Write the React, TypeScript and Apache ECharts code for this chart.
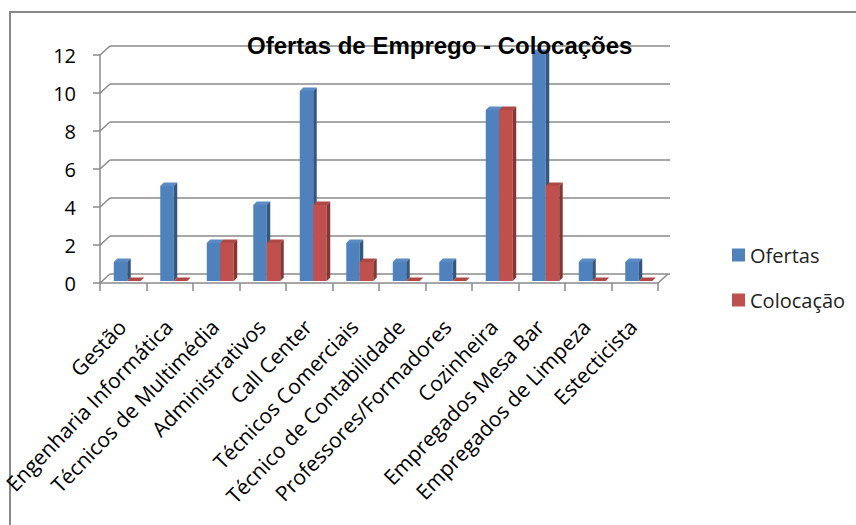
import React, { useEffect, useRef } from "react";
import * as echarts from "echarts";

const categories = [
  "Gestão",
  "Engenharia Informática",
  "Técnicos de Multimédia",
  "Administrativos",
  "Call Center",
  "Técnicos Comerciais",
  "Técnico de Contabilidade",
  "Professores/Formadores",
  "Cozinheira",
  "Empregados Mesa Bar",
  "Empregados de Limpeza",
  "Estecticista",
];
const ofertas = [1, 5, 2, 4, 10, 2, 1, 1, 9, 12, 1, 1];
const colocacao = [0, 0, 2, 2, 4, 1, 0, 0, 9, 5, 0, 0];
const yTicks = [0, 2, 4, 6, 8, 10, 12];
const seriesNames = ["Ofertas", "Colocação"];
const titleText = "Ofertas de Emprego - Colocações";

const BLUE = { front: "#4F81BD", side: "#34577F", top: "#5B8BC4" };
const RED = { front: "#C0504D", side: "#853734", top: "#B04845" };
const GRID_COLOR = "#8A8A8A";
const FONT = "Open Sans";

function makeBarRender(seriesIdx: number, pal: { front: string; side: string; top: string }) {
  return (params: any, api: any) => {
    const idx = api.value(0);
    const val = api.value(1);
    const base = api.coord([idx, 0]);
    const topPt = api.coord([idx, val]);
    const catW = api.size([1, 0])[0];
    const barW = catW * 0.29;
    const center = base[0] + 4;
    const x0 = seriesIdx === 0 ? center - barW : center;
    const baseY = base[1] - 2;
    const topY = topPt[1] - 2;
    const d = 3.5;
    return {
      type: "group",
      children: [
        {
          type: "rect",
          shape: { x: x0, y: topY, width: barW, height: baseY - topY },
          style: { fill: pal.front },
        },
        {
          type: "polygon",
          shape: {
            points: [
              [x0, topY],
              [x0 + d, topY - d],
              [x0 + barW + d, topY - d],
              [x0 + barW, topY],
            ],
          },
          style: { fill: pal.top },
        },
        {
          type: "polygon",
          shape: {
            points: [
              [x0 + barW, topY],
              [x0 + barW + d, topY - d],
              [x0 + barW + d, baseY - d],
              [x0 + barW, baseY],
            ],
          },
          style: { fill: pal.side },
        },
      ],
    };
  };
}

function connectorRender(params: any, api: any) {
  const v = api.value(1);
  const cs = params.coordSys;
  const y = api.coord([0, v])[1];
  const children: any[] = [
    {
      type: "line",
      shape: { x1: cs.x, y1: y, x2: cs.x + 10, y2: y - 9 },
      style: { stroke: GRID_COLOR, lineWidth: 1.5 },
    },
  ];
  if (v === 0) {
    children.push({
      type: "line",
      shape: { x1: cs.x + cs.width, y1: y, x2: cs.x + cs.width + 10, y2: y - 9 },
      style: { stroke: GRID_COLOR, lineWidth: 1.5 },
    });
  }
  return { type: "group", children };
}

export default function App() {
  const ref = useRef<HTMLDivElement>(null);
  useEffect(() => {
    document.body.style.margin = "0";
    if (!ref.current) return;
    const chart = echarts.init(ref.current, undefined, { renderer: "svg" });
    chart.setOption({
      animation: false,
      backgroundColor: "#ffffff",
      title: {
        text: titleText,
        left: 247,
        top: 33,
        padding: 0,
        textStyle: {
          fontFamily: "Liberation Sans",
          fontWeight: "bold",
          fontSize: 24,
          color: "#000",
        },
      },
      legend: {
        orient: "vertical",
        left: 727,
        top: 240,
        itemWidth: 13,
        itemHeight: 13,
        itemGap: 25,
        icon: "rect",
        data: seriesNames,
        textStyle: { fontFamily: FONT, fontSize: 20, color: "#222", lineHeight: 20 },
      },
      graphic: [
        {
          type: "polyline",
          shape: { points: [[10, 525], [10, 12], [856, 12]] },
          style: { stroke: "#888888", lineWidth: 2, fill: null },
          silent: true,
        },
      ],
      grid: [
        { left: 100, top: 55, right: 198, bottom: 242 },
        { left: 110, top: 46, right: 186, bottom: 251 },
        { left: 98, top: 55, right: 200, bottom: 242 },
      ],
      xAxis: [
        {
          type: "category",
          gridIndex: 0,
          data: categories,
          boundaryGap: true,
          axisLine: { show: true, lineStyle: { color: GRID_COLOR, width: 1.5 } },
          axisTick: { show: true, interval: 0, length: 8, lineStyle: { color: GRID_COLOR, width: 1.5 } },
          axisLabel: { show: false },
          splitLine: { show: false },
        },
        {
          type: "category",
          gridIndex: 1,
          data: categories,
          show: false,
        },
        {
          type: "category",
          gridIndex: 2,
          data: categories,
          axisLine: { show: false },
          axisTick: { show: false },
          axisLabel: {
            interval: 0,
            rotate: 46,
            margin: 40,
            fontFamily: FONT,
            fontSize: 21,
            color: "#000",
          },
        },
      ],
      yAxis: [
        {
          type: "value",
          gridIndex: 0,
          min: 0,
          max: 12,
          interval: 2,
          axisLine: { show: true, lineStyle: { color: GRID_COLOR, width: 1.5 } },
          axisTick: { show: true, length: 7, lineStyle: { color: GRID_COLOR, width: 1.5 } },
          axisLabel: { margin: 24, fontFamily: FONT, fontSize: 20, color: "#000" },
          splitLine: { show: false },
        },
        {
          type: "value",
          gridIndex: 1,
          min: 0,
          max: 12,
          interval: 2,
          axisLine: { show: false },
          axisTick: { show: false },
          axisLabel: { show: false },
          splitLine: { show: true, lineStyle: { color: GRID_COLOR, width: 1.5 } },
        },
        {
          type: "value",
          gridIndex: 2,
          min: 0,
          max: 12,
          show: false,
        },
      ],
      series: [
        {
          type: "custom",
          name: "grid-connectors",
          xAxisIndex: 0,
          yAxisIndex: 0,
          silent: true,
          renderItem: connectorRender,
          data: yTicks.map((v) => [0, v]),
          encode: { x: 0, y: 1 },
          z: 1,
        },
        {
          type: "custom",
          name: seriesNames[0],
          xAxisIndex: 0,
          yAxisIndex: 0,
          itemStyle: { color: BLUE.front },
          renderItem: makeBarRender(0, BLUE),
          data: ofertas.map((v, i) => [i, v]),
          encode: { x: 0, y: 1 },
          z: 3,
        },
        {
          type: "custom",
          name: seriesNames[1],
          xAxisIndex: 0,
          yAxisIndex: 0,
          itemStyle: { color: RED.front },
          renderItem: makeBarRender(1, RED),
          data: colocacao.map((v, i) => [i, v]),
          encode: { x: 0, y: 1 },
          z: 4,
        },
      ],
    });
    return () => chart.dispose();
  }, []);
  return <div ref={ref} style={{ width: 856, height: 525 }} />;
}
